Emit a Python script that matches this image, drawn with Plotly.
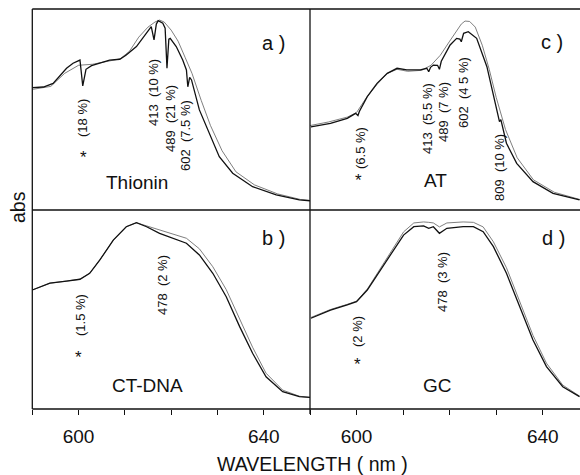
import plotly.graph_objects as go

# ---------------- data (normalised absorbance vs wavelength, nm) ----------------
# a) Thionin
wl_a = [590.0, 592.4, 594.5, 597.4, 598.8, 600.3, 600.9, 601.6, 602.8, 604.6, 606.7, 608.9,
        610.3, 612.5, 614.7, 615.7, 616.3, 616.8, 617.2, 618.2, 618.7, 619.1, 619.5, 619.8,
        621.1, 622.5, 623.3, 623.6, 624.0, 624.4, 626.1, 628.3, 630.4, 633.3, 637.6, 642.7,
        647.7, 650.0]
abs_a = [0.609, 0.612, 0.630, 0.705, 0.730, 0.746, 0.617, 0.700, 0.718, 0.730, 0.746, 0.750,
         0.771, 0.813, 0.879, 0.912, 0.846, 0.925, 0.942, 0.929, 0.905, 0.705, 0.850, 0.854,
         0.813, 0.746, 0.697, 0.613, 0.660, 0.647, 0.498, 0.382, 0.265, 0.183, 0.116, 0.075,
         0.050, 0.046]
wl_a_ref = [590, 594, 597, 600, 603, 606, 609, 611, 613, 615, 616.5, 617.5, 618.5, 620, 621.5,
            623, 624.5, 626.5, 628.5, 631, 634, 638, 643, 648, 650]
abs_a_ref = [0.600, 0.615, 0.680, 0.720, 0.725, 0.740, 0.752, 0.790, 0.860, 0.910, 0.935, 0.945,
             0.935, 0.895, 0.840, 0.760, 0.680, 0.545, 0.420, 0.295, 0.190, 0.125, 0.080, 0.052,
             0.047]

# b) CT-DNA
wl_b = [590, 593.8, 597.4, 600.3, 602.4, 604.6, 607.5, 610.3, 612.5, 614.7, 617.5, 620.4,
        623.3, 626.1, 629.0, 631.9, 634.8, 637.6, 640.5, 644.1, 647.7, 650]
abs_b = [0.598, 0.632, 0.643, 0.652, 0.682, 0.749, 0.849, 0.916, 0.936, 0.916, 0.883, 0.858,
         0.833, 0.774, 0.682, 0.564, 0.414, 0.280, 0.162, 0.087, 0.062, 0.058]
abs_b_ref = [0.598, 0.632, 0.643, 0.652, 0.682, 0.749, 0.849, 0.916, 0.936, 0.920, 0.898, 0.878,
             0.858, 0.805, 0.715, 0.600, 0.450, 0.310, 0.180, 0.095, 0.064, 0.058]

# c) AT
wl_c = [590.2, 594.4, 598.0, 599.8, 600.3, 600.6, 602.3, 604.4, 606.6, 608.7, 610.8, 613.7,
        615.1, 615.5, 615.9, 616.5, 617.4, 617.8, 618.2, 618.7, 620.1, 621.5, 622.2, 622.5,
        622.8, 623.0, 624.0, 625.8, 628.0, 629.7, 630.4, 630.7, 631.0, 632.2, 634.4, 637.9,
        642.2, 647.9]
abs_c = [0.414, 0.431, 0.456, 0.481, 0.470, 0.490, 0.564, 0.630, 0.680, 0.705, 0.697, 0.697,
         0.705, 0.688, 0.710, 0.721, 0.720, 0.700, 0.740, 0.763, 0.821, 0.854, 0.850, 0.837,
         0.860, 0.879, 0.887, 0.854, 0.713, 0.547, 0.480, 0.440, 0.450, 0.332, 0.232, 0.141,
         0.083, 0.050]
wl_c_ref = [590, 594, 598, 600, 602, 604.4, 606.6, 608.7, 611, 614, 616, 618, 620, 621.5, 622.5,
            623.3, 624.3, 625.5, 627, 628.5, 630, 632, 634.5, 638, 642.5, 648]
abs_c_ref = [0.420, 0.438, 0.462, 0.485, 0.555, 0.625, 0.680, 0.700, 0.690, 0.695, 0.720, 0.770,
             0.840, 0.890, 0.925, 0.940, 0.938, 0.910, 0.820, 0.700, 0.560, 0.400, 0.260, 0.150,
             0.088, 0.052]

# d) GC
wl_d = [590.2, 594.4, 598.0, 600.0, 602.3, 605.1, 608.0, 610.1, 612.3, 614.4, 615.5, 616.5,
        617.8, 619.4, 622.9, 625.1, 627.2, 629.4, 632.2, 635.1, 637.9, 640.8, 644.3, 647.9]
abs_d = [0.456, 0.497, 0.523, 0.539, 0.598, 0.698, 0.799, 0.874, 0.916, 0.920, 0.908, 0.916,
         0.883, 0.908, 0.916, 0.916, 0.891, 0.816, 0.682, 0.514, 0.347, 0.213, 0.112, 0.062]
abs_d_ref = [0.460, 0.500, 0.526, 0.542, 0.602, 0.705, 0.810, 0.890, 0.935, 0.940, 0.938, 0.935,
             0.915, 0.935, 0.940, 0.938, 0.915, 0.840, 0.710, 0.540, 0.370, 0.230, 0.120, 0.065]

tick_vals = [590, 600, 610, 620, 630, 640, 650]
tick_text = ["", "600", "", "", "", "640", ""]

panel_letters = ["a )", "b )", "c )", "d )"]
sample_names = ["Thionin", "CT-DNA", "AT", "GC"]
band_labels_a = ["(18 %)", "413  (10 %)", "489  (21 %)", "602  (7.5 %)"]
band_labels_b = ["(1.5 %)", "478  (2 %)"]
band_labels_c = ["(6.5 %)", "413  (5.5 %)", "489  (7 %)", "602  (4 5 %)", "809  (10 %)"]
band_labels_d = ["(2 %)", "478  (3 %)"]

# ---------------- figure ----------------
W, H = 580, 475
FONT = "Liberation Sans, Arial, Helvetica, sans-serif"
BLACK = "#111111"
GREY = "#707070"

def px(x):
    return x / W

def py(y):
    return 1 - y / H

XL = 32.3
XM = 310.0
YT = 9.0
YM = 210.0
YB = 409.0

fig = go.Figure()

panels = [
    ("x", "y", wl_a_ref, abs_a_ref, wl_a, abs_a),
    ("x2", "y2", wl_b, abs_b_ref, wl_b, abs_b),
    ("x3", "y3", wl_c_ref, abs_c_ref, wl_c, abs_c),
    ("x4", "y4", wl_d, abs_d_ref, wl_d, abs_d),
]
for xa, ya, xr, yr, xs, ys in panels:
    fig.add_trace(go.Scatter(x=xr, y=yr, xaxis=xa, yaxis=ya, mode="lines",
                             line=dict(color=GREY, width=0.9), hoverinfo="skip",
                             showlegend=False))
    fig.add_trace(go.Scatter(x=xs, y=ys, xaxis=xa, yaxis=ya, mode="lines",
                             line=dict(color=BLACK, width=1.3), hoverinfo="skip",
                             showlegend=False))

hidden_x = dict(showgrid=False, zeroline=False, showline=False, showticklabels=False, ticks="")
bottom_x = dict(showgrid=False, zeroline=False, showline=False, ticks="outside", ticklen=5,
                tickwidth=1.2, tickcolor=BLACK, tickvals=tick_vals, ticktext=tick_text,
                tickfont=dict(family=FONT, size=19, color=BLACK), ticklabelstandoff=5)
hidden_y = dict(showgrid=False, zeroline=False, showline=False, showticklabels=False, ticks="",
                range=[0, 1])

dl = [px(XL), px(XM)]
dr = [px(XM), 1.0]
dt = [py(YM), py(YT)]
db = [py(YB), py(YM)]

fig.update_layout(
    width=W, height=H,
    margin=dict(l=0, r=0, t=0, b=0),
    paper_bgcolor="white", plot_bgcolor="white",
    xaxis=dict(hidden_x, domain=dl, range=[590, 650], anchor="y"),
    yaxis=dict(hidden_y, domain=dt, anchor="x"),
    xaxis2=dict(bottom_x, domain=dl, range=[590, 650], anchor="y2"),
    yaxis2=dict(hidden_y, domain=db, anchor="x2"),
    xaxis3=dict(hidden_x, domain=dr, range=[590, 648], anchor="y3"),
    yaxis3=dict(hidden_y, domain=dt, anchor="x3"),
    xaxis4=dict(bottom_x, domain=dr, range=[590, 648], anchor="y4"),
    yaxis4=dict(hidden_y, domain=db, anchor="x4"),
)

# frame lines
frame = [
    (XL, YT, W, YT), (XL, YM, W, YM), (XL, YB, W, YB),
    (XL, YT, XL, YB), (XM, YT, XM, YB + 5),
]
for x0, y0, x1, y1 in frame:
    fig.add_shape(type="line", xref="paper", yref="paper",
                  x0=px(x0), y0=py(y0), x1=px(x1), y1=py(y1),
                  line=dict(color=BLACK, width=1.3))

anns = []

def ann(text, x, y, size, angle=0):
    anns.append(dict(text=text, x=px(x), y=py(y), xref="paper", yref="paper",
                     showarrow=False, textangle=angle, xanchor="center", yanchor="middle",
                     font=dict(family=FONT, size=size, color=BLACK)))

# panel letters
for t, (x, y) in zip(panel_letters, [(273, 43), (273, 238), (552, 42), (553, 238)]):
    ann(t, x, y, 20)
# sample names
for t, (x, y) in zip(sample_names, [(137, 182), (147, 385), (435, 180), (437, 385)]):
    ann(t, x, y, 19)
# asterisks
for (x, y) in [(83, 158), (78, 357), (358, 181), (357, 364)]:
    ann("*", x, y, 17)
# rotated band labels
for t, (x, y) in zip(band_labels_a, [(82, 118), (153, 93), (170, 118), (185, 136)]):
    ann(t, x, y, 13, -90)
for t, (x, y) in zip(band_labels_b, [(80, 315), (162, 285)]):
    ann(t, x, y, 13, -90)
for t, (x, y) in zip(band_labels_c, [(360, 148), (427, 119), (443, 112), (463, 93), (500, 167)]):
    ann(t, x, y, 13, -90)
for t, (x, y) in zip(band_labels_d, [(357, 332), (442, 282)]):
    ann(t, x, y, 13, -90)

# axis titles
ann("WAVELENGTH ( nm )", 312, 464, 19.5)
ann("abs", 18, 207, 19.5, -90)

fig.update_layout(annotations=anns)

fig.write_html("out.html", config={"displayModeBar": False},
               post_script="document.body.style.margin='0px';")
